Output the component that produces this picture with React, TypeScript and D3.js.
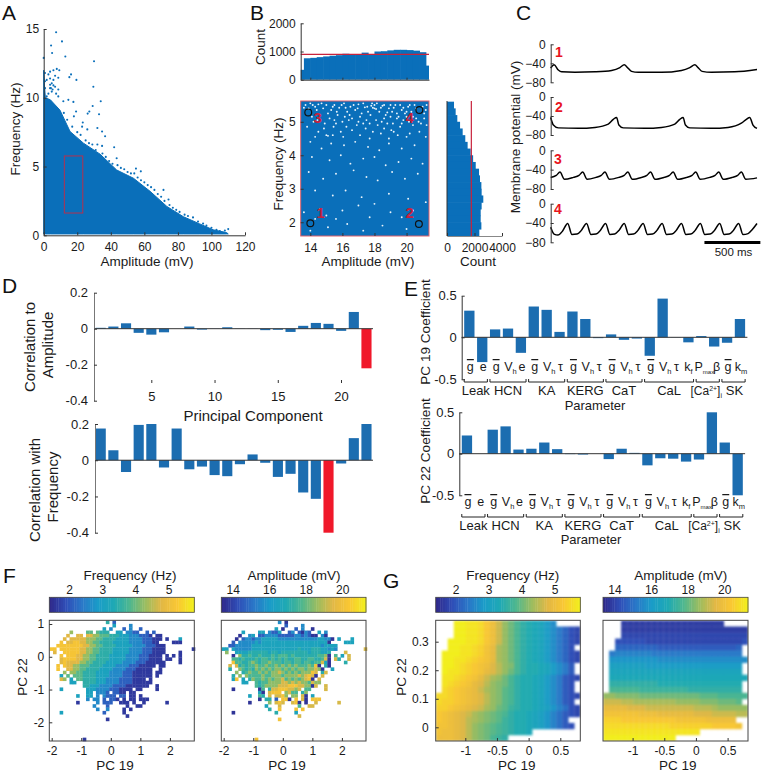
import React, { useRef, useEffect } from 'react';
import * as d3 from 'd3';

const FONT = '"Liberation Sans", Arial, sans-serif';
const BLUE = '#0a6fba';
const BAR = '#1c6db0';
const RED = '#f0182a';
const DARK_RED = '#b5304f';
const AXIS = '#333';

/* panel A: upper edge of the filled cloud, and the stray points above it */
const edgeAmp = [0, 0.4, 1, 4, 9.7, 15.7, 23.7, 33.6, 43.5, 53.5, 63.4, 73.4, 83.3, 93, 101, 109, 110];
const edgeFreq = [12, 11, 10, 9.85, 9.1, 7.55, 6.7, 5.9, 4.75, 4.15, 3.2, 2.1, 1.35, 0.83, 0.4, 0.2, 0.1];
const strayA = [
  [7.4, 14.76], [10.9, 14.1], [4.4, 13.8], [5, 13.25], [12.9, 13], [30, 12.65], [0, 12.9], [3.8, 11.9], [5.8, 12],
  [7.8, 12.1], [9.3, 12], [16.3, 11.7], [15.3, 11.5], [19.5, 11.3], [29.6, 10.8], [34, 9.75], [29.2, 9.4], [27.2, 9],
  [33, 8.8], [26.2, 8.85], [19.3, 9], [18, 8.65], [23.3, 8.2], [22.9, 7.9], [26, 7.7], [32, 7.8], [34.8, 7.55],
  [36.6, 7.2], [42, 6.4], [32, 6.6], [34.8, 6.5], [43.5, 5.6], [55, 4.85], [57.9, 4.65], [71.4, 3.3], [74.4, 2.6],
  [14.7, 9.85], [11.7, 9.75], [17.7, 9.7], [8.7, 10.1], [7.4, 10.3], [3.8, 10.95], [4.8, 11.05], [5.8, 10.9],
  [6.8, 10.8], [3.8, 10.7], [5.8, 11.3], [2.8, 11.7], [3.8, 11.4], [6.8, 11.6], [1.8, 11.3], [8.7, 11.45],
  [8.7, 10.6], [0.8, 11.8], [0.8, 11.2], [0.8, 10.7], [2.8, 10.3], [4.8, 10.45], [1.8, 10.1], [4.3, 10.7], [5.3, 10.6],
  [12, 8.9], [14, 8.4], [17, 7.9], [20, 7.5], [22, 7.3], [25, 6.9], [27, 6.7], [29, 6.6], [31, 6.2], [35, 5.95],
  [37, 5.7], [39, 5.4], [41, 5.2], [44, 5.1], [46, 4.9], [48, 4.8], [50, 4.6], [52, 4.5], [54, 4.5], [56, 4.2],
  [58, 4.0], [60, 3.85], [62, 3.65], [64, 3.5], [66, 3.3], [68, 3.0], [70, 2.8], [72, 2.5], [75, 2.2], [77, 2.0],
  [79, 1.85], [81, 1.7], [84, 1.5], [86, 1.4], [89, 1.3], [92, 1.0], [95, 0.85], [97, 0.7], [100, 0.55], [103, 0.4],
  [105, 0.3], [108, 0.35], [110, 0.45],
];
const rectA = [12.3, 23.3, 1.62, 5.77];

/* panel B */
const ampHist = [350, 760, 775, 800, 825, 850, 870, 920, 900, 905, 960, 905, 1000, 1010, 1040, 1060, 1060, 1050, 1030, 975, 500];
const ampHistCenters = [13.4, 13.8, 14.2, 14.6, 15, 15.4, 15.8, 16.2, 16.6, 17, 17.4, 17.8, 18.2, 18.6, 19, 19.4, 19.8, 20.2, 20.6, 21, 21.4];
const freqHist = [510, 630, 750, 950, 1140, 1330, 1500, 1720, 1900, 2090, 2330, 2400, 2500, 2520, 2640, 2520, 2450, 2450, 2500, 2350];
const freqHistCenters = [5.5, 5.3, 5.1, 4.9, 4.7, 4.5, 4.3, 4.1, 3.9, 3.7, 3.5, 3.3, 3.1, 2.9, 2.7, 2.5, 2.3, 2.1, 1.9, 1.7];
const ampMean = 900;
const freqMean = 1770;
const picked = [[14.0, 1.97], [20.77, 1.95], [13.87, 5.28], [20.8, 5.35]];
const gapsB = [
  [13.7, 5.5], [14.0, 5.55], [14.3, 5.45], [14.5, 5.52], [14.8, 5.4], [15.0, 5.5], [15.3, 5.35], [15.5, 5.5], [15.8, 5.42],
  [16.1, 5.55], [16.3, 5.3], [16.5, 5.45], [16.8, 5.35], [17.0, 5.52], [17.2, 5.25], [17.4, 5.43], [17.6, 5.3], [17.8, 5.48],
  [17.9, 5.42], [18.0, 5.5], [18.1, 5.38], [18.3, 5.3], [18.5, 5.48], [18.7, 5.2], [18.9, 5.4], [19.1, 5.3], [19.3, 5.5],
  [19.5, 5.15], [19.7, 5.35], [19.9, 5.25], [20.1, 5.45], [20.3, 5.3], [20.5, 5.5], [21.0, 5.45], [21.2, 5.35], [14.6, 5.2],
  [15.2, 5.1], [15.7, 5.2], [16.4, 5.05], [17.5, 5.05], [18.6, 5.1], [19.0, 5.15], [19.4, 5.1], [19.8, 5.05], [20.0, 5.15],
  [20.6, 5.1], [21.1, 5.1], [14.2, 5.0], [14.9, 4.95], [15.6, 4.95], [16.0, 5.0], [16.9, 4.9], [17.3, 4.95], [18.2, 4.9],
  [18.8, 4.95], [19.6, 4.85], [20.4, 4.9], [20.9, 4.95], [13.8, 4.85], [14.5, 4.7], [15.0, 4.6], [15.1, 4.58], [15.4, 4.6],
  [15.9, 4.7], [16.6, 4.75], [17.1, 4.6], [17.9, 4.7], [18.4, 4.65], [19.2, 4.7], [20.2, 4.65], [20.8, 4.7], [21.2, 4.55],
  [14.0, 4.4], [14.7, 4.2], [15.3, 4.35], [16.1, 4.3], [16.8, 4.4], [17.6, 4.25], [18.3, 4.15], [18.9, 4.35], [19.7, 4.2],
  [20.5, 4.3], [14.1, 3.95], [15.2, 3.85], [15.9, 4.0], [16.5, 3.75], [17.3, 3.9], [18.0, 3.95], [18.7, 3.7], [19.5, 3.8],
  [20.3, 3.9], [21.0, 3.75], [13.9, 3.5], [14.8, 3.3], [15.6, 3.45], [16.7, 3.55], [17.5, 3.35], [18.2, 3.25], [19.1, 3.5],
  [19.9, 3.3], [20.7, 3.45], [14.3, 2.95], [15.4, 2.8], [16.2, 2.95], [17.2, 2.75], [18.9, 2.85], [20.1, 2.7], [14.6, 2.4],
  [15.0, 2.2], [16.0, 2.35], [17.0, 2.5], [18.0, 2.55], [17.7, 2.15], [19.0, 2.3], [19.7, 2.15], [20.4, 2.35], [14.3, 2.1],
  [15.1, 1.85], [16.3, 1.95], [17.3, 1.75], [18.5, 1.9], [20.0, 1.8], [14.0, 1.75], [13.6, 2.3], [21.2, 2.6], [15.6, 2.1],
  [13.6, 5.42], [13.9, 5.4], [14.15, 5.5], [14.4, 5.35], [14.7, 5.55], [15.1, 5.25], [15.4, 5.45], [15.65, 5.3], [15.95, 5.5],
  [16.2, 5.42], [16.45, 5.2], [16.7, 5.5], [16.95, 5.4], [17.1, 5.15], [17.3, 5.55], [17.55, 5.45], [17.75, 5.2], [17.85, 5.55],
  [18.0, 5.4], [18.15, 5.55], [18.4, 5.42], [18.6, 5.5], [18.8, 5.28], [19.0, 5.5], [19.2, 5.42], [19.4, 5.25], [19.6, 5.5],
  [19.8, 5.42], [20.0, 5.3], [20.2, 5.5], [20.4, 5.15], [20.6, 5.4], [21.1, 5.25], [21.25, 5.5], [14.1, 5.15], [14.45, 5.05],
  [15.5, 5.05], [16.15, 5.15], [16.6, 5.1], [17.0, 5.0], [17.7, 4.95], [18.1, 5.05], [18.45, 5.0], [19.15, 4.95], [19.7, 4.95],
  [20.15, 5.0], [20.75, 5.0], [21.25, 4.9], [14.85, 4.8], [15.45, 4.85], [16.25, 4.85], [17.45, 4.8], [18.6, 4.8], [19.05, 4.75],
  [19.45, 4.6], [20.0, 4.55], [16.05, 4.55], [17.7, 4.5], [14.3, 4.55], [18.9, 4.5],
];

/* panel C: [ms, mV] vertices of the four example traces */
const trace1 = [[0, -50], [30, -43], [68, -54], [98, -58], [217, -59], [396, -58], [545, -55], [619, -49], [658, -43], [687, -49], [723, -57], [783, -59], [991, -59], [1170, -55], [1244, -49], [1289, -43], [1318, -49], [1354, -57], [1437, -59], [1646, -58], [1845, -53]];
const trace2 = [[0, -43], [24, -59], [68, -65], [247, -66], [396, -64], [515, -57], [560, -47], [589, -43], [610, -59], [649, -65], [842, -66], [991, -64], [1110, -57], [1155, -47], [1184, -43], [1205, -59], [1244, -65], [1437, -66], [1586, -64], [1705, -55], [1750, -47], [1780, -43], [1809, -59], [1845, -66]];
const trace3 = [[0, -56], [50, -52], [83, -45], [123, -60], [203, -56], [253, -52], [286, -45], [326, -60], [405, -56], [452, -52], [485, -45], [525, -60], [610, -56], [657, -52], [690, -45], [730, -60], [813, -56], [860, -52], [893, -45], [933, -60], [1015, -56], [1062, -52], [1095, -45], [1135, -60], [1217, -56], [1264, -52], [1297, -45], [1337, -60], [1423, -56], [1470, -52], [1503, -45], [1543, -60], [1625, -56], [1672, -52], [1705, -45], [1745, -60], [1845, -57]];
const trace4 = [[0, -49], [30, -63], [65, -65], [105, -57], [152, -41], [190, -64], [235, -63], [275, -55], [321, -41], [360, -64], [405, -63], [445, -55], [491, -41], [530, -64], [572, -63], [612, -55], [658, -41], [697, -64], [741, -63], [781, -55], [827, -41], [866, -64], [911, -63], [951, -55], [997, -41], [1036, -64], [1084, -63], [1124, -55], [1170, -41], [1209, -64], [1253, -63], [1293, -55], [1339, -41], [1378, -64], [1426, -63], [1466, -55], [1512, -41], [1551, -64], [1595, -63], [1635, -55], [1681, -41], [1720, -64], [1765, -62], [1805, -53], [1845, -41]];
const traces = [trace1, trace2, trace3, trace4];

/* panel D */
const components = d3.range(1, 23);
const corrAmp = [0.005, 0.012, 0.03, -0.023, -0.033, -0.02, 0, 0.012, -0.005, 0.001, 0.008, 0.001, -0.001, -0.008, -0.006, -0.018, 0.016, 0.032, 0.027, -0.012, 0.093, -0.22];
const corrFreq = [0.175, 0.055, -0.065, 0.195, 0.2, -0.04, 0.175, -0.05, -0.035, -0.082, -0.088, -0.022, 0.032, -0.014, -0.092, -0.075, -0.178, -0.213, -0.4, -0.018, 0.122, 0.2];

/* panel E */
const paramNames = ['g', 'e', 'g', 'Vh', 'e', 'g', 'Vh', 'τ', 'g', 'Vh', 'τ', 'g', 'Vh', 'τ', 'g', 'Vh', 'τ', 'kf', 'Pmax', 'β', 'g', 'km'];
const coefPC19 = [0.32, -0.295, 0.095, 0.105, -0.185, 0.37, 0.33, 0.065, 0.31, 0.22, -0.01, 0.035, -0.03, -0.015, -0.22, 0.465, 0.003, -0.06, 0.015, -0.11, -0.065, 0.22];
const coefPC22 = [0.22, 0, 0.29, 0.33, 0.05, 0.06, 0.135, 0.055, -0.005, -0.01, 0, -0.065, 0.06, 0.01, -0.14, -0.055, -0.06, -0.095, -0.07, 0.5, 0.135, -0.5];
const groups = [
  { name: 'Leak', from: 0, to: 1 }, { name: 'HCN', from: 2, to: 4 }, { name: 'KA', from: 5, to: 7 }, { name: 'KERG', from: 8, to: 10 },
  { name: 'CaT', from: 11, to: 13 }, { name: 'CaL', from: 14, to: 17 }, { name: 'Ca', from: 18, to: 19 }, { name: 'SK', from: 20, to: 21 },
];

/* panel F: one digit per cell, looked up in the level lists below */
const freqLevels = [1.6, 2.1, 2.6, 3.1, 3.5, 3.9, 4.3, 4.8, 5.2, 5.7];
const ampLevels = [13.6, 14.6, 15.6, 16.5, 17.1, 17.7, 18.5, 19.4, 20.2, 21];
const freqCells = [
  '.................4.1',
  '...................3....2',
  '................3.2...1.2..1',
  '......6....55.5444..33.2211..1.1',
  '.....7..77.77665554443332221110.00',
  '....7.7777766655444433332222111000.0...3',
  '...8.7788776655444433333222211100....000',
  '..888888887766554444333332222111000',
  '88.88888877665544443333322221110000........0',
  '.7..8888877665544443333322221110000....0',
  '...8.88877665544443333322221110000.0.0.0',
  '...7888877665544443333322221110000.00..0',
  '...78777766554444333332222111000000....0',
  '..8.8776655544443333222211100000.00',
  '..8..77665544443333222211100000..0',
  '....6.6655444433332222111000000.00',
  '...3.5.555444433332222111000000.0',
  '...76.3.554444333222211110000.0',
  '......33..444433322221111000000',
  '..........44333222211110000000..0',
  '...3.......33322221110000.00....0',
  '...........33.2221.1100.00',
  '........3..33.2.2111.11.00.0',
  '...........2.22.1.110.0.00.000',
  '........0.....2.111..000.0..0......0',
  '.............2...1.....0..00',
  '..............2..2....0.0',
  '...3............1.....0',
  '.......................0',
  '.................0',
  '', '', '', '', '',
  '..........0',
];
const ampCells = [
  '.................2.0',
  '...................1....2',
  '................3.0...1.2..0',
  '......3....33.2113..12.1021..3.2',
  '.....0..23.112222111112212100.20',
  '....0.1221223333322222222222233220.3...3',
  '...1.2222232333333333333333333330....333',
  '..112222233333333333333333333323333',
  '33.32222233333333333333433344433232........7',
  '.6..33334444443443444444443444334....7',
  '...0.6445445444545554544444445560.5.3.7',
  '...554544454554545454455445544570.74..7',
  '...855445654556555455455455455730....4',
  '..7.74545565565565656565556580.40',
  '..4..65454656565665656566566760..3',
  '....6.45655656566765656566687.47',
  '...4.6.6555565566656666767870.7',
  '...38.3.46556565667565656780.7',
  '......33..54556666776767665766',
  '..........5456666777888776607..7',
  '...0.......05.4778887767.55....7',
  '...........30.7888.6755.46',
  '........3..54.7.7786.66.70.3',
  '...........0.44.1.880.8.70.888',
  '........0.....6.787..780.0..7......7',
  '.............3...7.....5..77',
  '..............4..8....8.8',
  '...0............4.....3',
  '.......................7',
  '.................8',
  '', '', '', '', '',
  '..........8',
];

/* panel G: one base-36 character per cell, 0 is the bottom of the colour range and z the top */
const freqSurface = [
  '...zzyyxvtqnljhgfeca....',
  '...zzyyxvtqnljhgfeca8643',
  '...zzyyxvtqnljhgfeca8643',
  '..zzzyyxvtqnljhgfeca8643',
  '..zzyyxwusonljhgfeca864.',
  '.zzzyyxwusonljhgfeca8643',
  '.zzyyxwvusonljhgfeca8643',
  '.zzyxwvutrpnmjhggfeca85.',
  '.zyyxwvusrpnljhggfeca85.',
  '.yyxwvusqonljhggfeca8543',
  '.yxwvusrpnmljhggfeca854.',
  '.xwvutsqonmkjhggfeca854.',
  'xxwvutsrpnmkjhggfeca8543',
  'xwwvutsrpnmkjhggfeca854.',
  'wwvutsrqonlkihggfedb9743',
  'vutsrqonmlkjhggfedb97543',
  'vutsrponmlkihggfedb975..',
  'uutsrpnmlkjihggfedb9754.',
  'uttsrpnmlkjihggf',
  'tttsrpnmljih',
];
const ampSurface = [
  '...22222222222222222....',
  '...222222222222222222222',
  '...333333333333333333333',
  '..4444433333333333333334',
  '..666666655555555555556.',
  '.8999999888888888888888',
  '.bbbbbbbbaaaaaaaaaaaaaaa',
  '.ddddddcccccccccccccccc.',
  '.eeeeeeeeeeeeeeeeeeeeee.',
  '.fffffffffffffffffffffff',
  '.hhhhhhhhgggggggggggggg.',
  '.jjjjjiiiiiiiihhhhhhhhh.',
  'nnmmmmllllllllllkkkjjjjj',
  'qqqppooooooonnnnmmmlllk.',
  'ssssrrrqqqqqqqqppponnnnn',
  'uuuuuutttssssssrrrqqqqpp',
  'wwwvvvvvvvvvuuuuuttttt..',
  'xxxxxxxxxxxwwwwwwwvvvvu.',
  'yyyyyyyyyyyyyyyy',
  'zzzzzzzzzzzz',
];

const parulaStops = ['#2f2a8c', '#2f4fb8', '#2a78c8', '#1a9cc8', '#1fa9b4', '#4fb78f', '#9cbd60', '#e2b845', '#f9c733', '#f2ee1e'];
const digit36 = '0123456789abcdefghijklmnopqrstuvwxyz';

const App = () => {
  const ref = useRef<SVGSVGElement | null>(null);

  useEffect(() => {
    if (!ref.current) return;
    const svg = d3.select(ref.current);
    svg.selectAll('*').remove();

    const label = (x: number, y: number, s: string, size = 13.5, opts: any = {}) =>
      svg.append('text').attr('x', x).attr('y', y).attr('font-family', FONT).attr('font-size', size)
        .attr('text-anchor', opts.anchor || 'middle').attr('fill', opts.fill || '#1a1a1a')
        .attr('font-weight', opts.weight || 'normal')
        .attr('transform', opts.rotate ? `rotate(-90 ${x} ${y})` : null).text(s);

    const styleAxis = (g: any, keepDomain = true) => {
      g.attr('font-family', FONT).attr('font-size', 12).attr('fill', '#1a1a1a');
      g.selectAll('text').attr('fill', '#1a1a1a');
      g.selectAll('line').attr('stroke', AXIS);
      g.select('.domain').attr('stroke', AXIS);
      if (!keepDomain) g.select('.domain').remove();
    };
    const leftAxis = (x: number, scale: any, ticks: number[], pad = 5, fmt: any = d3.format('')) => {
      const g = svg.append('g').attr('transform', `translate(${x},0)`)
        .call(d3.axisLeft(scale).tickValues(ticks).tickSizeInner(-3).tickSizeOuter(0).tickPadding(pad).tickFormat(fmt));
      styleAxis(g);
      return g;
    };
    const bottomAxis = (y: number, scale: any, ticks: number[], pad = 7.5, fmt: any = d3.format('')) => {
      const g = svg.append('g').attr('transform', `translate(0,${y})`)
        .call(d3.axisBottom(scale).tickValues(ticks).tickSizeInner(-3).tickSizeOuter(0).tickPadding(pad).tickFormat(fmt));
      styleAxis(g);
      return g;
    };
    const minus = (d: number) => String(d);

    // panel letters
    [['A', 2, 20], ['B', 250, 20], ['C', 516, 20], ['D', 2, 293], ['E', 404, 296], ['F', 3, 583], ['G', 383, 588]].forEach(
      ([s, x, y]: any) => label(x, y, s, 21, { anchor: 'start', fill: '#111' }));

    /* A */
    const ax = d3.scaleLinear().domain([0, 120]).range([43.7, 245]);
    const ay = d3.scaleLinear().domain([0, 15]).range([235.3, 29]);
    svg.append('path').attr('fill', BLUE).attr('stroke', BLUE).attr('stroke-width', 1)
      .attr('d', d3.area<number>().x((_, i) => ax(edgeAmp[i])).y0(ay(0.1)).y1(d => ay(d))(edgeFreq));
    svg.append('g').selectAll('circle').data(strayA).join('circle')
      .attr('cx', d => ax(d[0])).attr('cy', d => ay(d[1])).attr('r', 1.05).attr('fill', BLUE);
    svg.append('rect').attr('x', ax(rectA[0])).attr('y', ay(rectA[3]))
      .attr('width', ax(rectA[1]) - ax(rectA[0])).attr('height', ay(rectA[2]) - ay(rectA[3]))
      .attr('fill', 'none').attr('stroke', DARK_RED).attr('stroke-width', 1);
    leftAxis(ax(0), ay, [0, 5, 10, 15], 4.5);
    bottomAxis(ay(0), ax, [0, 20, 40, 60, 80, 100, 120]);
    label(147, 266, 'Amplitude (mV)');
    label(20, 129, 'Frequency (Hz)', 13.5, { rotate: true });

    /* B */
    const bx = d3.scaleLinear().domain([13.4, 21.4]).range([300.7, 429]);
    const by = d3.scaleLinear().domain([1.59, 5.62]).range([236, 101]);
    const hy = d3.scaleLinear().domain([0, 2000]).range([79.7, 23.3]);
    svg.append('g').selectAll('rect').data(ampHist).join('rect')
      .attr('x', (_, i) => bx(Math.max(13.4, ampHistCenters[i] - 0.2)))
      .attr('width', (_, i) => bx(Math.min(21.4, ampHistCenters[i] + 0.2)) - bx(Math.max(13.4, ampHistCenters[i] - 0.2)) + (i < 20 ? 0.6 : 0))
      .attr('y', d => hy(d)).attr('height', d => hy(0) - hy(d)).attr('fill', BLUE);
    svg.append('line').attr('x1', bx.range()[0]).attr('x2', bx.range()[1]).attr('y1', hy(ampMean)).attr('y2', hy(ampMean))
      .attr('stroke', '#c8233c').attr('stroke-width', 1.2);
    leftAxis(bx(13.4), hy, [0, 1000, 2000]);
    svg.append('g').attr('transform', `translate(0,${hy(0)})`)
      .call(d3.axisBottom(bx).tickValues([14, 16, 18, 20]).tickSizeInner(-2).tickSizeOuter(0).tickFormat(() => ''))
      .call(g => styleAxis(g));

    svg.append('rect').attr('x', bx(13.4)).attr('y', by(5.62)).attr('width', bx(21.4) - bx(13.4)).attr('height', by(1.59) - by(5.62))
      .attr('fill', BLUE);
    svg.append('g').selectAll('circle').data(gapsB).join('circle')
      .attr('cx', d => bx(d[0])).attr('cy', d => by(d[1])).attr('r', 0.95).attr('fill', '#eaf4fb');
    svg.append('rect').attr('x', bx(13.4)).attr('y', by(5.62)).attr('width', bx(21.4) - bx(13.4)).attr('height', by(1.59) - by(5.62))
      .attr('fill', 'none').attr('stroke', '#e0606a').attr('stroke-width', 1);
    svg.append('g').selectAll('circle').data(picked).join('circle')
      .attr('cx', d => bx(d[0])).attr('cy', d => by(d[1])).attr('r', 3.4)
      .attr('fill', 'none').attr('stroke', '#111').attr('stroke-width', 1.2);
    [['1', 14.64, 2.13], ['2', 20.2, 2.13], ['3', 14.46, 4.96], ['4', 20.2, 4.96]].forEach(([s, a, f]: any) =>
      label(bx(a), by(f), s, 15, { fill: '#c8203c', weight: 'bold' }));
    leftAxis(bx(13.4), by, [2, 3, 4, 5]).select('.domain').attr('stroke', 'none');
    bottomAxis(by(1.59), bx, [14, 16, 18, 20]).select('.domain').attr('stroke', 'none');
    label(368, 266, 'Amplitude (mV)');
    label(265, 47, 'Count', 13.5, { rotate: true });
    label(283, 164, 'Frequency (Hz)', 13.5, { rotate: true });

    const cx = d3.scaleLinear().domain([0, 4000]).range([447, 502]);
    svg.append('g').selectAll('rect').data(freqHist).join('rect')
      .attr('x', cx(0)).attr('width', d => cx(d) - cx(0))
      .attr('y', (_, i) => by(freqHistCenters[i] + 0.1)).attr('height', (_, i) => by(freqHistCenters[i] - 0.1) - by(freqHistCenters[i] + 0.1) + 0.6)
      .attr('fill', BLUE);
    svg.append('line').attr('x1', cx(freqMean)).attr('x2', cx(freqMean)).attr('y1', by(5.62)).attr('y2', by(1.59))
      .attr('stroke', '#c8233c').attr('stroke-width', 1.2);
    const cAxis = bottomAxis(by(1.59), cx, [0, 2000, 4000]);
    cAxis.select('.domain').attr('stroke', '#888');
    svg.append('line').attr('x1', cx(0)).attr('x2', cx(0)).attr('y1', by(5.62)).attr('y2', by(1.59)).attr('stroke', AXIS);
    label(478, 266, 'Count');

    /* C */
    const tx = d3.scaleLinear().domain([0, 1845]).range([550.7, 757]);
    const traceTops = [44.3, 97, 150.3, 203.7];
    const traceBottoms = [82.3, 135, 189, 242.3];
    const traceTags: [string, number, number][] = [['1', 559, 57], ['2', 559, 112], ['3', 558, 164], ['4', 558, 214]];
    traces.forEach((tr, k) => {
      const vy = d3.scaleLinear().domain([-80, 0]).range([traceBottoms[k], traceTops[k]]);
      svg.append('path').attr('fill', 'none').attr('stroke', '#000').attr('stroke-width', 1.5)
        .attr('d', d3.line<number[]>().x(d => tx(d[0])).y(d => vy(d[1])).curve(d3.curveMonotoneX)(tr));
      leftAxis(tx(0), vy, [-80, -40, 0], 5);
      label(traceTags[k][1], traceTags[k][2], traceTags[k][0], 14, { fill: '#e8141e', weight: 'bold' });
    });
    label(520, 137, 'Membrane potential (mV)', 13.5, { rotate: true });
    svg.append('rect').attr('x', tx(1375)).attr('y', 241).attr('width', tx(1875) - tx(1375)).attr('height', 3).attr('fill', '#000');
    label(733.5, 256, '500 ms', 11.5);

    /* D */
    const dx = d3.scaleBand<number>().domain(components).range([94.4, 372.8]).paddingInner(0.2).paddingOuter(0.1);
    const drawCorr = (vals: number[], top: number, bottom: number, axisX: number, highlight: number) => {
      const y = d3.scaleLinear().domain([-0.4, 0.2]).range([bottom, top]);
      svg.append('g').selectAll('rect').data(vals).join('rect')
        .attr('x', (_, i) => dx(components[i]) as number).attr('width', dx.bandwidth())
        .attr('y', d => y(Math.max(d, 0))).attr('height', d => Math.abs(y(d) - y(0)))
        .attr('fill', (_, i) => (components[i] === highlight ? RED : BAR));
      svg.append('line').attr('x1', axisX).attr('x2', 373).attr('y1', y(0)).attr('y2', y(0)).attr('stroke', AXIS);
      const g = leftAxis(axisX, y, [-0.4, -0.2, 0, 0.2], 6, minus);
      g.select('.domain').attr('stroke', '#777');
      g.attr('font-size', 13);
    };
    drawCorr(corrAmp, 292.7, 400.7, 94, 22);
    drawCorr(corrFreq, 424, 532.7, 95, 19);
    const dTicks = d3.scaleLinear().domain([5, 20]).range([151.3, 341]);
    const dAxis = svg.append('g').attr('transform', 'translate(0,380)')
      .call(d3.axisBottom(dTicks).tickValues([5, 10, 15, 20]).tickSizeInner(3).tickSizeOuter(0).tickPadding(9).tickFormat(d3.format('')));
    styleAxis(dAxis, false);
    dAxis.attr('font-size', 13);
    label(253, 420.5, 'Principal Component', 15);
    label(35, 347, 'Correlation to', 15, { rotate: true });
    label(53, 345, 'Amplitude', 15, { rotate: true });
    label(40, 490, 'Correlation with', 15, { rotate: true });
    label(58, 487, 'Frequency', 15, { rotate: true });

    /* E */
    const drawCoef = (vals: number[], left: number, x0: number, x1: number, top: number, zero: number, bottom: number,
      nameY: number, bracketY: number, groupY: number, paramX: number, paramY: number, ylabel: string, labelY: number) => {
      const ex = d3.scaleBand<number>().domain(d3.range(22)).range([x0, x1]).paddingInner(0.2).paddingOuter(0.1);
      const ey = d3.scaleLinear().domain([-0.5, 0, 0.5]).range([bottom, zero, top]);
      svg.append('g').selectAll('rect').data(vals).join('rect')
        .attr('x', (_, i) => ex(i) as number).attr('width', ex.bandwidth())
        .attr('y', d => ey(Math.max(d, 0))).attr('height', d => Math.abs(ey(d) - ey(0))).attr('fill', BAR);
      svg.append('line').attr('x1', left).attr('x2', x1 + 1).attr('y1', ey(0)).attr('y2', ey(0)).attr('stroke', AXIS);
      const ya = leftAxis(left, ey, [-0.5, 0, 0.5], 5, minus);
      ya.attr('font-size', 13);
      paramNames.forEach((p, i) => {
        const nudge = p === 'Pmax' ? 3 : p === 'β' ? 2.5 : p === 'Vh' ? 2.5 : p === 'kf' ? 0 : 1;
        const c = (ex(i) as number) + ex.bandwidth() / 2 + nudge;
        const t = svg.append('text').attr('x', c).attr('y', nameY).attr('font-family', FONT).attr('font-size', 12.5)
          .attr('text-anchor', 'middle').attr('fill', '#1a1a1a');
        if (p === 'g') t.append('tspan').attr('text-decoration', 'overline').text('g');
        else if (p.length > 1) {
          t.append('tspan').text(p[0]);
          t.append('tspan').attr('font-size', p === 'Pmax' ? 6 : 7.5).attr('dy', 3).text(p.slice(1));
        } else t.text(p);
      });
      groups.forEach(gr => {
        const a = ex(gr.from) as number;
        const b = (ex(gr.to) as number) + ex.bandwidth();
        svg.append('path').attr('fill', 'none').attr('stroke', '#222').attr('stroke-width', 1)
          .attr('d', `M${a},${bracketY - 3}V${bracketY}H${b}V${bracketY - 3}`);
        const t = svg.append('text').attr('x', (a + b) / 2 + (gr.name === 'Ca' ? -1.5 : gr.name === 'SK' ? 1 : 0)).attr('y', groupY)
          .attr('font-family', FONT).attr('font-size', 13).attr('text-anchor', 'middle').attr('fill', '#1a1a1a');
        if (gr.name === 'Ca') {
          t.attr('font-size', 12);
          t.append('tspan').text('[Ca');
          t.append('tspan').attr('font-size', 7).attr('dy', -4).text('2+');
          t.append('tspan').attr('dy', 4).text(']');
          t.append('tspan').attr('font-size', 7).attr('dy', 3).text('i');
        } else t.text(gr.name);
      });
      label(paramX, paramY, 'Parameter', 13);
      label(430, labelY, ylabel, 13.6, { rotate: true });
    };
    drawCoef(coefPC19, 461.7, 462.9, 746.4, 295.7, 337.3, 379.3, 371, 382, 395, 595, 410, 'PC 19 Coefficient', 332);
    drawCoef(coefPC22, 459.3, 460.5, 744.1, 412.3, 453.7, 495.3, 506, 517, 530, 591, 544, 'PC 22 Coefficient', 451);

    /* colour bars and cell images */
    const colorOf = (lo: number, hi: number) =>
      d3.scaleLinear<string>().domain(parulaStops.map((_, i) => lo + (hi - lo) * i / (parulaStops.length - 1)))
        .range(parulaStops).interpolate(d3.interpolateRgb);
    const colorBar = (x0: number, x1: number, lo: number, hi: number, ticks: number[], title: string, titleX: number) => {
      const sc = d3.scaleLinear().domain([lo, hi]).range([x0, x1]);
      const color = colorOf(lo, hi);
      const n = 64;
      svg.append('g').selectAll('rect').data(d3.range(n)).join('rect')
        .attr('x', i => x0 + (x1 - x0) * i / n).attr('width', (x1 - x0) / n + 0.4)
        .attr('y', 597.3).attr('height', 15).attr('fill', i => color(lo + (hi - lo) * i / (n - 1)));
      svg.append('rect').attr('x', x0).attr('y', 597.3).attr('width', x1 - x0).attr('height', 15)
        .attr('fill', 'none').attr('stroke', '#444').attr('stroke-width', 0.8);
      const g = svg.append('g').attr('transform', 'translate(0,597.3)')
        .call(d3.axisTop(sc).tickValues(ticks).tickSizeInner(0).tickSizeOuter(0).tickPadding(3).tickFormat(d3.format('')));
      styleAxis(g, false);
      label(titleX, 580, title);
    };
    const frameXY = (x0: number, x1: number, xs: any, ys: any, xt: number[], yt: number[] | null, pad: number, title: number) => {
      svg.append('rect').attr('x', x0).attr('y', 620.3).attr('width', x1 - x0).attr('height', 120.7)
        .attr('fill', 'none').attr('stroke', '#444').attr('stroke-width', 1);
      const b = bottomAxis(741, xs, xt, 5.5, minus);
      b.select('.domain').attr('stroke', 'none');
      const l = leftAxis(x0, ys, yt || [], pad, minus);
      l.select('.domain').attr('stroke', 'none');
      label(title, 770, 'PC 19');
    };
    const cellMap = (rows: string[], x0: number, x1: number, nCols: number, alphabet: string, color: any, valueOf: (k: number) => number, blur: boolean) => {
      const colB = d3.scaleBand<number>().domain(d3.range(nCols)).range([x0, x1]);
      const rowB = d3.scaleBand<number>().domain(d3.range(rows.length)).range([620.5, 741]);
      const cells: { r: number; c: number; v: number }[] = [];
      rows.forEach((row, r) => row.split('').forEach((ch, c) => {
        const k = alphabet.indexOf(ch);
        if (k >= 0 && c < nCols) cells.push({ r, c, v: valueOf(k) });
      }));
      const g = svg.append('g');
      if (blur) g.attr('clip-path', `url(#clip${Math.round(x0)})`);
      const inner = blur ? g.append('g').attr('filter', 'url(#soft)') : g;
      inner.selectAll('rect').data(cells).join('rect')
        .attr('x', d => colB(d.c) as number).attr('y', d => rowB(d.r) as number)
        .attr('width', colB.bandwidth() + 0.3).attr('height', rowB.bandwidth() + 0.3)
        .attr('fill', d => color(d.v));
    };

    const defs = svg.append('defs');
    defs.append('filter').attr('id', 'soft').attr('x', '-5%').attr('y', '-5%').attr('width', '110%').attr('height', '110%')
      .append('feGaussianBlur').attr('stdDeviation', 1.1);

    /* F */
    const fYs = d3.scaleLinear().domain([1, -2]).range([624, 722.3]);
    const fXs = (x0: number) => d3.scaleLinear().domain([-2, 2]).range([x0 + 2.4, x0 + 120.6]);
    cellMap(freqCells, 49.7, 195, 44, '0123456789', colorOf(1.4, 5.78), k => freqLevels[k], false);
    cellMap(ampCells, 221.7, 367, 44, '0123456789', colorOf(13.37, 21.3), k => ampLevels[k], false);
    colorBar(49.3, 194.3, 1.4, 5.78, [2, 3, 4, 5], 'Frequency (Hz)', 130);
    colorBar(221.3, 366, 13.37, 21.3, [14, 16, 18, 20], 'Amplitude (mV)', 294);
    frameXY(49.3, 194.3, fXs(49.3), fYs, [-2, -1, 0, 1, 2], [-2, -1, 0, 1], 5, 115);
    frameXY(221.3, 366, fXs(221.3), fYs, [-2, -1, 0, 1, 2], null, 5, 287);
    label(27, 677, 'PC 22', 13.5, { rotate: true });

    /* G */
    [435.7, 603].forEach(x0 => {
      defs.append('clipPath').attr('id', `clip${Math.round(x0)}`).append('rect')
        .attr('x', x0).attr('y', 620.3).attr('width', 145).attr('height', 120.7);
    });
    cellMap(freqSurface, 435.7, 580.3, 24, digit36, colorOf(1.4, 5.78), k => 1.4 + 4.38 * k / 35, true);
    cellMap(ampSurface, 603, 748, 24, digit36, colorOf(13.37, 21.3), k => 13.37 + 7.93 * k / 35, true);
    colorBar(435.7, 580.3, 1.4, 5.78, [2, 3, 4, 5], 'Frequency (Hz)', 512.7);
    colorBar(603, 748, 13.37, 21.3, [14, 16, 18, 20], 'Amplitude (mV)', 680.7);
    const gYs = d3.scaleLinear().domain([0, 0.3]).range([727.3, 641.7]);
    const gXs = (x0: number) => d3.scaleLinear().domain([-1, 0.5]).range([x0 + 29.6, x0 + 124.6]);
    frameXY(435.7, 580.3, gXs(435.7), gYs, [-1, -0.5, 0, 0.5], [0, 0.1, 0.2, 0.3], 7, 516.7);
    frameXY(603, 748, gXs(603), gYs, [-1, -0.5, 0, 0.5], null, 7, 677.7);
    label(406, 677, 'PC 22', 13.5, { rotate: true });
  }, []);

  return <svg ref={ref} width={761} height={773} style={{ position: 'absolute', left: 0, top: 0, background: '#fff' }} />;
};

export default App;
